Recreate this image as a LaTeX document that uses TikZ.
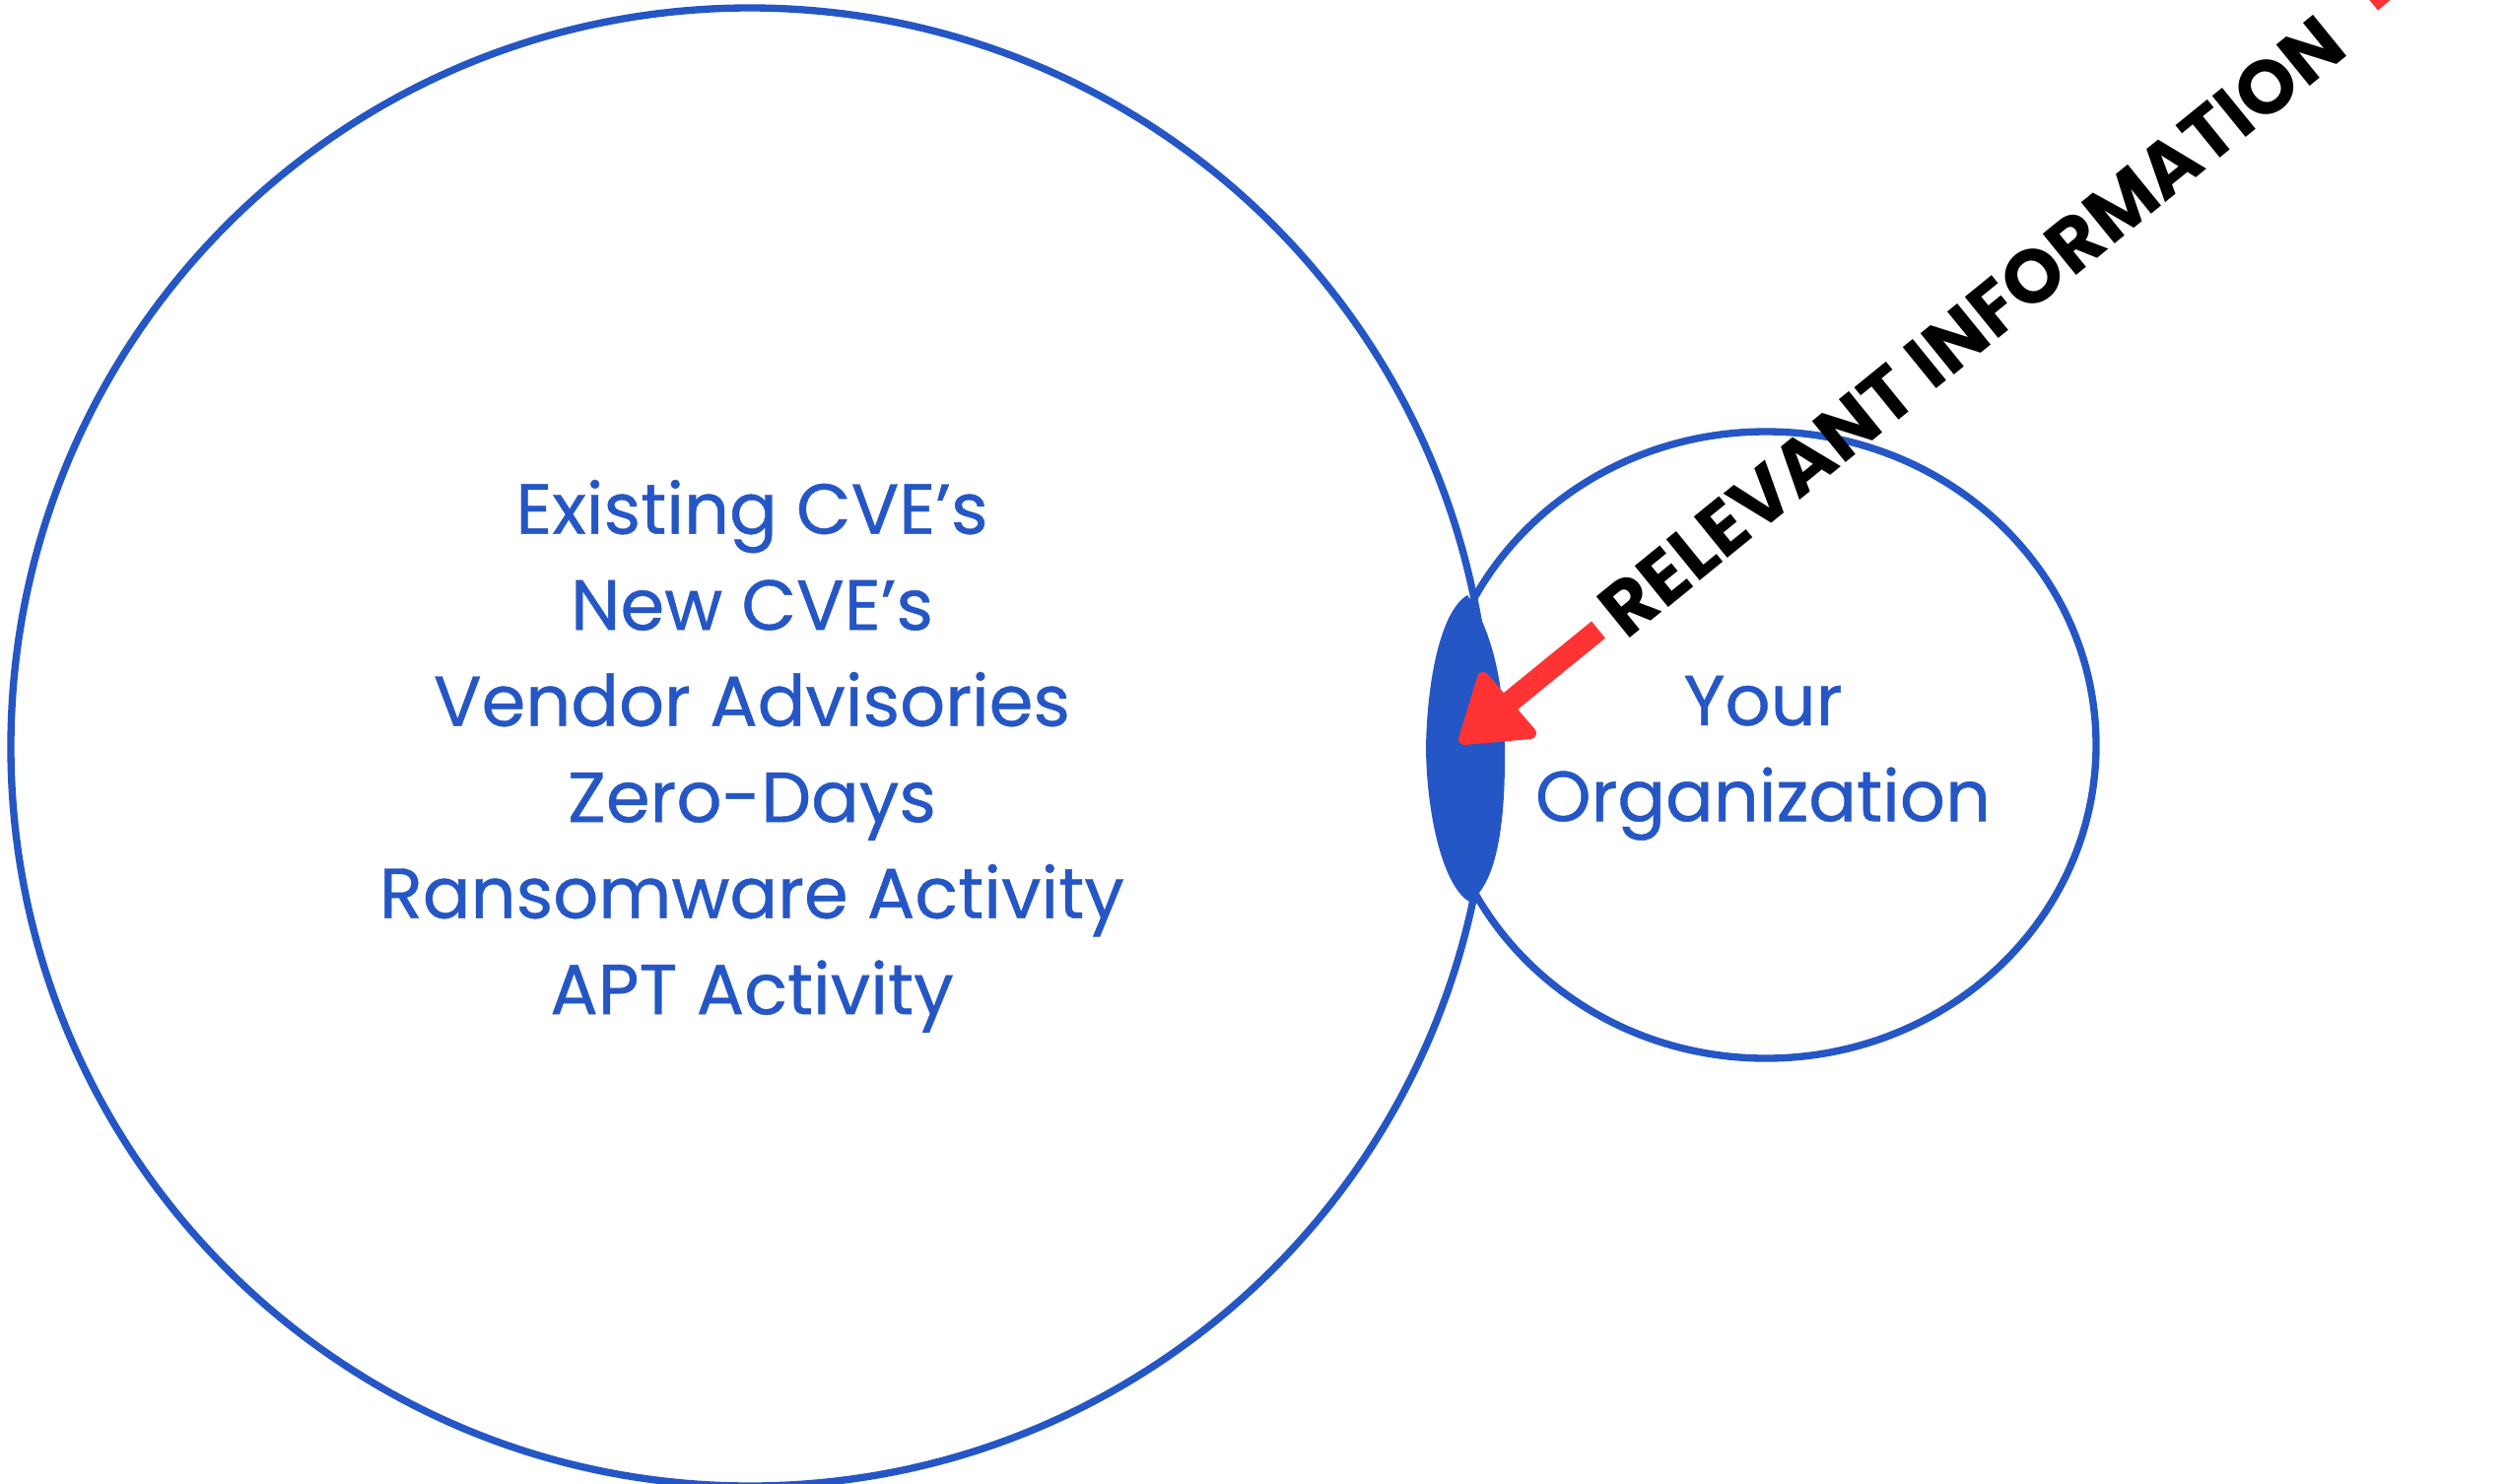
\documentclass[tikz,border=0pt]{standalone}
\usepackage{fontspec}
\setmainfont{Poppins}
\newfontfamily\bluefont{Poppins}[FakeBold=0.6]
\definecolor{cblue}{RGB}{37,86,197}
\definecolor{cred}{RGB}{255,51,51}
\begin{document}
\begin{tikzpicture}[x=0.3pt,y=-0.3pt,
  ring/.style={draw=cblue,line width=2.2pt},
  bluetext/.style={text=cblue,font=\bluefont\fontsize{21.6}{24}\selectfont,anchor=base,inner sep=0pt},
  labeltext/.style={text=black,font=\fontsize{23}{26}\selectfont\bfseries,inner sep=0pt,anchor=west,rotate=39.1}]
\useasboundingbox (0,0) rectangle (2543,1505);
% circles
\draw[ring] (761,758) circle[radius=750];
\draw[ring] (1792,756) ellipse[x radius=335,y radius=318];
% lens
\fill[cblue] (1489,604) .. controls (1515,640) and (1528,700) .. (1527,770)
  .. controls (1527,850) and (1515,900) .. (1491,915)
  .. controls (1465,900) and (1448,830) .. (1447,760)
  .. controls (1448,690) and (1462,620) .. (1489,604) -- cycle;
% arrow
\coordinate (s) at (1622,639);
\coordinate (hb) at (1525,718);
\coordinate (ha) at (1505,688);
\coordinate (hc) at (1553,744);
\coordinate (ht) at (1486,750);
\coordinate (e1) at (2406,2);
\coordinate (e2) at (2476,-56);
\draw[cred,line width=6.6pt] (s) -- (hb);
\filldraw[cred,line width=3.6pt,line join=round] (ha) -- (hc) -- (ht) -- cycle;
\draw[cred,line width=6.6pt] (e1) -- (e2);
% label
\node[labeltext] (rel) at (1633,630) {RELEVANT INFORMATION};
% texts
\node[bluetext] (l1) at (763,541.7) {Existing CVE’s};
\node[bluetext] (l2) at (763,639.2) {New CVE’s};
\node[bluetext] (l3) at (763,736.7) {Vendor Advisories};
\node[bluetext] (l4) at (763,834.2) {Zero-Days};
\node[bluetext] (l5) at (763,931.7) {Ransomware Activity};
\node[bluetext] (l6) at (763,1029.2) {APT Activity};
\node[bluetext] (o1) at (1789,736) {Your};
\node[bluetext] (o2) at (1789,833.3) {Organization};
\end{tikzpicture}
\end{document}
